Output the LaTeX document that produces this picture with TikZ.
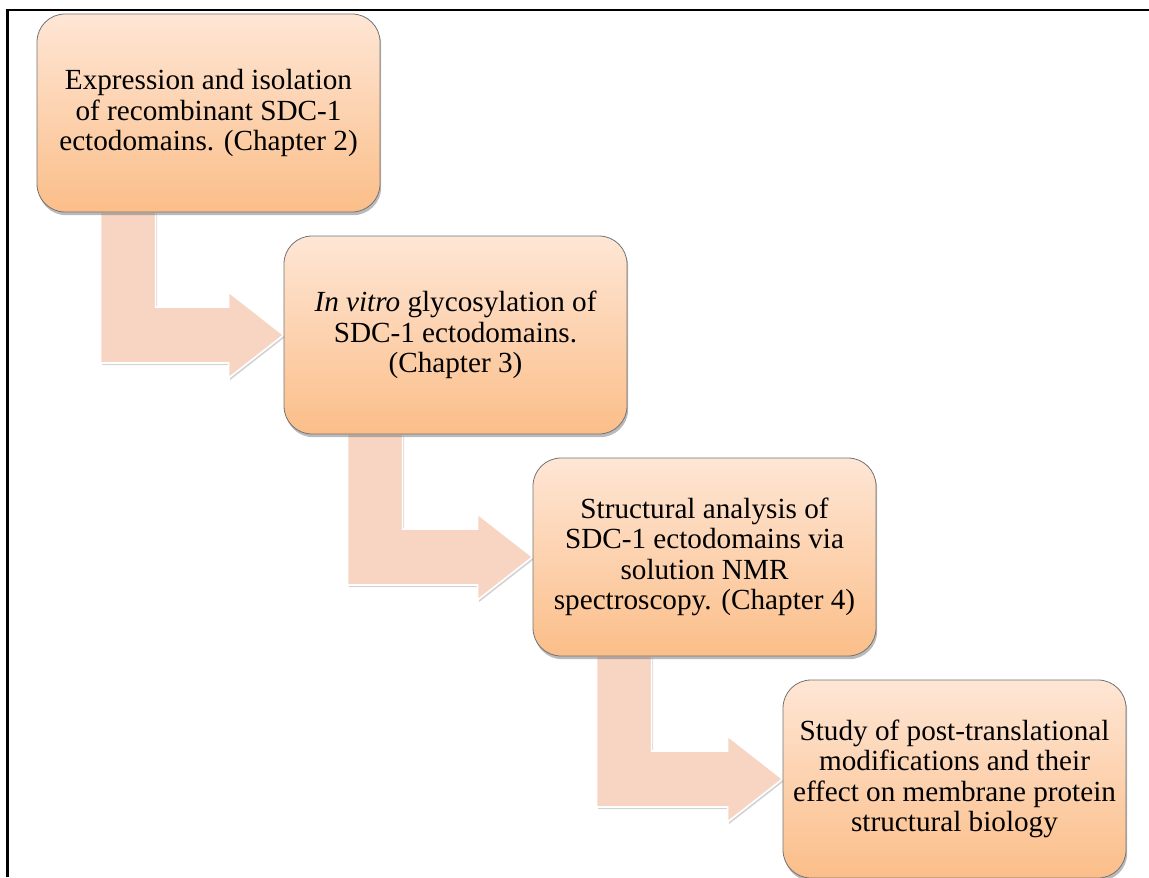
\documentclass[tikz,border=0pt]{standalone}
\usepackage{fontspec}
\setmainfont{Liberation Serif}
\usetikzlibrary{calc,shadows,backgrounds}
\definecolor{peachtop}{HTML}{FEE6D5}
\definecolor{peachbot}{HTML}{FBBE89}
\definecolor{flowfill}{HTML}{F8D5C2}

\begin{document}
\begin{tikzpicture}[x=0.5pt,y=-0.5pt,
  stage/.style={draw=black!55,rounded corners=14pt,top color=peachtop,bottom color=peachbot,minimum width=171.5pt,minimum height=99pt,align=center,inner sep=2pt,font=\fontsize{14.6}{15.2}\selectfont,drop shadow={shadow xshift=0.6pt,shadow yshift=-1.6pt,opacity=0.45,fill=black!60}},
  flow/.style={fill=flowfill,draw=white,line width=0.8pt,drop shadow={shadow xshift=0.8pt,shadow yshift=-1pt,opacity=0.35}}]
\useasboundingbox (0,0) rectangle (1149,877);
\node[stage] (expr) at (208.5,113) {Expression and isolation\\of recombinant SDC-1\\ectodomains. (Chapter 2)};
\node[stage] (glyco) at (455.5,335) {\textit{In vitro} glycosylation of\\SDC-1 ectodomains.\\(Chapter 3)};
\node[stage] (nmr) at (704.5,557) {Structural analysis of\\SDC-1 ectodomains via\\solution NMR\\spectroscopy. (Chapter 4)};
\node[stage] (ptm) at (954.5,779) {Study of post-translational\\modifications and their\\effect on membrane protein\\structural biology};
% bent arrows behind the boxes
\begin{scope}[on background layer]
\foreach \a/\b in {expr/glyco,glyco/nmr,nmr/ptm}
  \draw[flow] ($(\a.south west)+(64,0)$) |- ($(\b.west)+(-55,28)$) -- ++(0,15) -- (\b.west) -- ++(-55,-43) -- ++(0,15) -| ($(\a.south west)+(119,0)$) -- cycle;
\end{scope}
% frame
\draw[line width=1.3pt] (7.5,877) |- (1149,10);
\end{tikzpicture}
\end{document}
